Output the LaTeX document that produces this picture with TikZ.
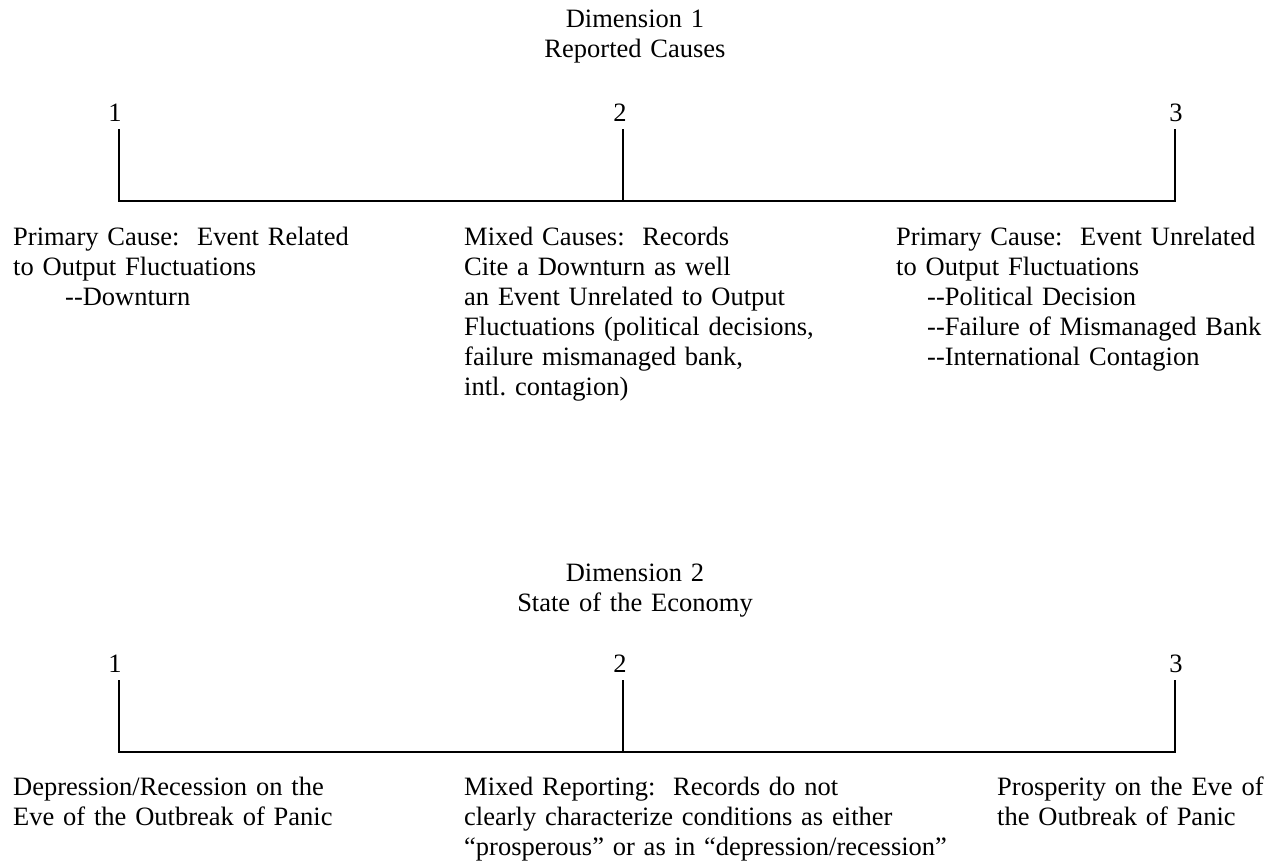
\documentclass[tikz,border=0pt]{standalone}
\usepackage{fontspec}
\setmainfont{Liberation Serif}
\frenchspacing
\tikzstyle{scaleline} = [line width=2.2pt]
\tikzstyle{dimtitle} = [anchor=base,align=center,text width=300pt,inner sep=0pt]
\tikzstyle{pointlabel} = [anchor=base,inner sep=0pt]
\tikzstyle{desc} = [anchor=base west,align=left,inner sep=0pt]

\begin{document}
\begin{tikzpicture}[x=1pt,y=-1pt,every node/.style={font=\fontsize{26.5}{30}\selectfont}]
 \useasboundingbox (0,0) rectangle (1274,867);
 % Dimension 1
 \node (DI1) [dimtitle] at (635,28) {Dimension 1\\Reported Causes};
 \node (P11) [pointlabel] at (115,121) {1};
 \node (P12) [pointlabel] at (620,121) {2};
 \node (P13) [pointlabel] at (1176,121) {3};
 \coordinate (T11) at (119,129);
 \coordinate (B11) at (119,201);
 \coordinate (T12) at (623,129);
 \coordinate (B12) at (623,201);
 \coordinate (T13) at (1175,129);
 \coordinate (B13) at (1175,201);
 \draw [scaleline] (T11) -- (B11) -- (B13) -- (T13);
 \draw [scaleline] (T12) -- (B12);
 \node (C11) [desc,text width=380pt] at (13,245)
      {Primary Cause:~~Event Related\\to Output Fluctuations\\\hspace*{52pt}-{}-Downturn};
 \node (C12) [desc,text width=380pt] at (464,245)
      {Mixed Causes:~~Records\\Cite a Downturn as well\\an Event Unrelated to Output\\
       Fluctuations (political decisions,\\failure mismanaged bank,\\intl. contagion)};
 \node (C13) [desc,text width=376pt] at (896,245)
      {Primary Cause:~~Event Unrelated\\to Output Fluctuations\\
       \hspace*{31pt}-{}-Political Decision\\\hspace*{31pt}-{}-Failure of Mismanaged Bank\\
       \hspace*{31pt}-{}-International Contagion};
 % Dimension 2
 \node (DI2) [dimtitle] at (635,581) {Dimension 2\\State of the Economy};
 \node (P21) [pointlabel] at (115,672) {1};
 \node (P22) [pointlabel] at (620,672) {2};
 \node (P23) [pointlabel] at (1176,672) {3};
 \coordinate (T21) at (119,680);
 \coordinate (B21) at (119,752);
 \coordinate (T22) at (623,680);
 \coordinate (B22) at (623,752);
 \coordinate (T23) at (1175,680);
 \coordinate (B23) at (1175,752);
 \draw [scaleline] (T21) -- (B21) -- (B23) -- (T23);
 \draw [scaleline] (T22) -- (B22);
 \node (C21) [desc,text width=380pt] at (13,795)
      {Depression/Recession on the\\Eve of the Outbreak of Panic};
 \node (C22) [desc,text width=490pt] at (464,795)
      {Mixed Reporting:~~Records do not\\clearly characterize conditions as either\\
       “prosperous” or as in “depression/recession”};
 \node (C23) [desc,text width=272pt] at (997,795)
      {Prosperity on the Eve of\\the Outbreak of Panic};
\end{tikzpicture}
\end{document}
